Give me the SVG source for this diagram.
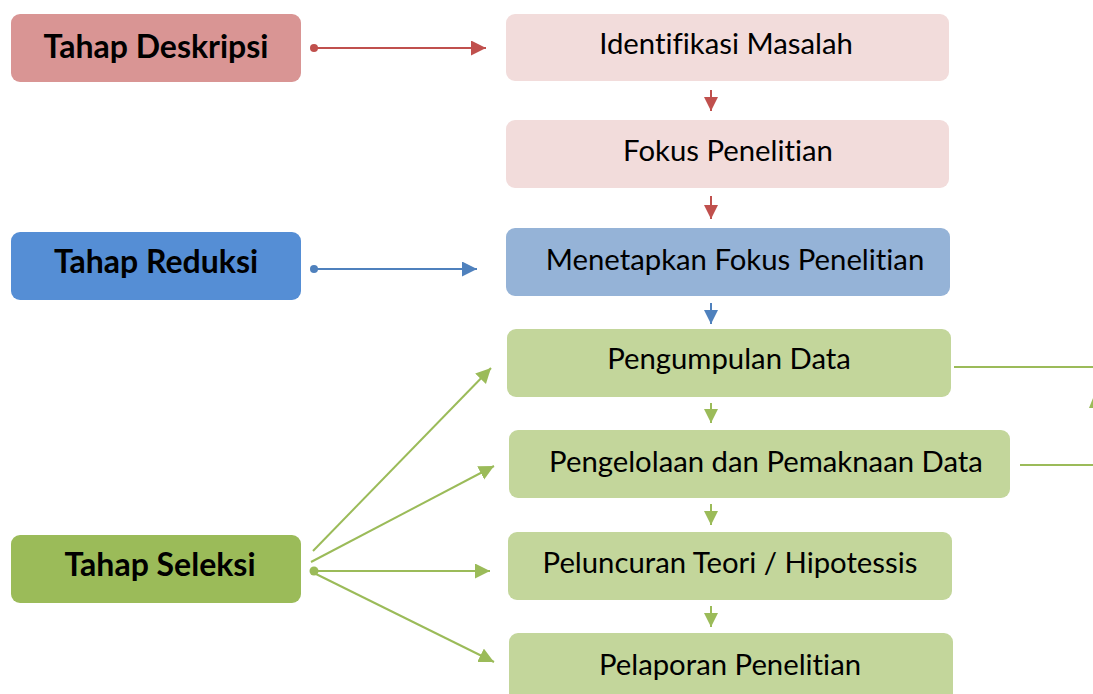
<svg xmlns="http://www.w3.org/2000/svg" width="1093" height="694" viewBox="0 0 1093 694">
<style>
.stage{font-family:Lato,"Liberation Sans",sans-serif;font-weight:bold;font-size:32px;fill:#000;text-anchor:middle;font-variant-ligatures:none}
.step{font-family:Lato,"Liberation Sans",sans-serif;font-size:29.3px;fill:#000;text-anchor:middle;font-variant-ligatures:none}
.red{stroke:#c0504d;stroke-width:2;fill:none}
.blue{stroke:#4f81bd;stroke-width:2;fill:none}
.green{stroke:#9bbb59;stroke-width:2;fill:none}
</style>
<defs>
<marker id="ar" markerUnits="userSpaceOnUse" markerWidth="16" markerHeight="16" refX="15" refY="7.5" orient="auto"><path d="M0,0 L15,7.5 L0,15 Z" fill="#c0504d"/></marker>
<marker id="ab" markerUnits="userSpaceOnUse" markerWidth="16" markerHeight="16" refX="15" refY="7.5" orient="auto"><path d="M0,0 L15,7.5 L0,15 Z" fill="#4f81bd"/></marker>
<marker id="ag" markerUnits="userSpaceOnUse" markerWidth="16" markerHeight="16" refX="15" refY="7.5" orient="auto"><path d="M0,0 L15,7.5 L0,15 Z" fill="#9bbb59"/></marker>
<marker id="ars" markerUnits="userSpaceOnUse" markerWidth="16" markerHeight="16" refX="14" refY="7" orient="auto"><path d="M0,0 L14,7 L0,14 Z" fill="#c0504d"/></marker>
<marker id="abs" markerUnits="userSpaceOnUse" markerWidth="16" markerHeight="16" refX="14" refY="7" orient="auto"><path d="M0,0 L14,7 L0,14 Z" fill="#4f81bd"/></marker>
<marker id="ags" markerUnits="userSpaceOnUse" markerWidth="16" markerHeight="16" refX="14" refY="7" orient="auto"><path d="M0,0 L14,7 L0,14 Z" fill="#9bbb59"/></marker>
</defs>
<rect width="1093" height="694" fill="#fff"/>

<g id="tahap-deskripsi"><rect x="11" y="14" width="290" height="68" rx="9" fill="#d99594"/><text class="stage" x="156" y="58">Tahap Deskripsi</text></g>
<g id="tahap-reduksi"><rect x="11" y="232" width="290" height="68" rx="9" fill="#558ed5"/><text class="stage" x="156" y="273">Tahap Reduksi</text></g>
<g id="tahap-seleksi"><rect x="11" y="535" width="290" height="68" rx="9" fill="#9bbb59"/><text class="stage" x="160" y="576">Tahap Seleksi</text></g>

<g id="identifikasi"><rect x="506" y="14" width="443" height="67" rx="9" fill="#f2dcdb"/><text class="step" x="726" y="54">Identifikasi Masalah</text></g>
<g id="fokus"><rect x="506" y="120" width="443" height="68" rx="9" fill="#f2dcdb"/><text class="step" x="728" y="161">Fokus Penelitian</text></g>
<g id="menetapkan"><rect x="506" y="228" width="444" height="68" rx="9" fill="#95b3d7"/><text class="step" x="735" y="270">Menetapkan Fokus Penelitian</text></g>
<g id="pengumpulan"><rect x="507" y="329" width="444" height="68" rx="9" fill="#c3d69b"/><text class="step" x="729" y="369">Pengumpulan Data</text></g>
<g id="pengelolaan"><rect x="509" y="430" width="501" height="68" rx="9" fill="#c3d69b"/><text class="step" x="766" y="472">Pengelolaan dan Pemaknaan Data</text></g>
<g id="peluncuran"><rect x="508" y="532" width="444" height="68" rx="9" fill="#c3d69b"/><text class="step" x="730" y="573">Peluncuran Teori / Hipotessis</text></g>
<g id="pelaporan"><rect x="509" y="633" width="444" height="75" rx="9" fill="#c3d69b"/><text class="step" x="730" y="675">Pelaporan Penelitian</text></g>

<g id="connectors">
<circle cx="314" cy="48" r="4" fill="#c0504d"/>
<line class="red" x1="314" y1="48" x2="486" y2="48" marker-end="url(#ar)"/>
<line class="red" x1="711" y1="90" x2="711" y2="111" marker-end="url(#ars)"/>
<line class="red" x1="711" y1="196" x2="711" y2="219" marker-end="url(#ars)"/>
<circle cx="314" cy="269" r="4" fill="#4f81bd"/>
<line class="blue" x1="314" y1="269" x2="477" y2="269" marker-end="url(#ab)"/>
<line class="blue" x1="711" y1="303" x2="711" y2="324" marker-end="url(#abs)"/>
<line class="green" x1="711" y1="403" x2="711" y2="423" marker-end="url(#ags)"/>
<line class="green" x1="711" y1="504" x2="711" y2="525" marker-end="url(#ags)"/>
<line class="green" x1="711" y1="606" x2="711" y2="627" marker-end="url(#ags)"/>
<line class="green" x1="313" y1="551" x2="491" y2="368" marker-end="url(#ag)"/>
<line class="green" x1="311" y1="562" x2="494" y2="466" marker-end="url(#ag)"/>
<circle cx="314" cy="571" r="4.5" fill="#9bbb59"/>
<line class="green" x1="314" y1="571" x2="490" y2="571" marker-end="url(#ag)"/>
<line class="green" x1="316" y1="574" x2="494" y2="662" marker-end="url(#ag)"/>
<line class="green" x1="954" y1="367" x2="1093" y2="367"/>
<line class="green" x1="1020" y1="465" x2="1093" y2="465"/>
<polygon points="1093,398 1089,408 1093,408" fill="#9bbb59"/>
</g>
</svg>
